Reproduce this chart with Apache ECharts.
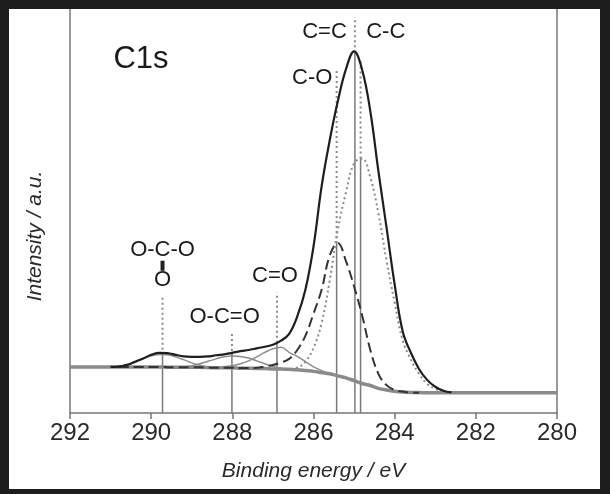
<!DOCTYPE html>
<html>
<head>
<meta charset="utf-8">
<script src="https://cdn.jsdelivr.net/npm/echarts@6/dist/echarts.min.js"></script>
<style>
html,body{margin:0;padding:0;background:#1d1d1d;}
#chart{position:absolute;left:9px;top:9px;width:591px;height:480px;background:#fff;}
</style>
</head>
<body>
<div id="chart"></div>
<script>
// binding energy grid (eV) (a.u.)
var energy = [292,291.5,291,290.8,290.6,290.4,290.2,290,289.8,289.6,289.4,289.2,289,288.8,288.6,288.4,288.2,288,287.8,287.6,287.4,287.2,287,286.8,286.6,286.4,286.2,286,285.8,285.6,285.4,285.2,285,284.8,284.6,284.4,284.2,284,283.8,283.6,283.4,283.2,283,282.8,282.6,282,281,280];

var background = [11.4,11.4,11.4,11.4,11.4,11.4,11.4,11.4,11.4,11.35,11.3,11.3,11.3,11.3,11.25,11.2,11.2,11.2,11.1,11.1,11.0,11.0,10.9,10.9,10.8,10.7,10.5,10.3,10.0,9.7,9.2,8.7,8.0,7.3,6.8,6.1,5.7,5.4,5.2,5.1,5.05,5.0,5.0,5.0,5.0,5.0,5.0,5.0];

var envelope = [null,null,11.4,11.5,11.9,12.7,13.5,14.4,14.9,14.8,14.4,14.0,13.9,13.9,14.0,14.3,14.5,14.9,15.3,15.6,16.0,16.4,16.9,17.9,19.6,23.9,30.5,41.2,56.1,67.5,77.2,85.1,89.5,84.9,74.7,59.8,45.9,31.8,20.1,14.9,10.9,8.2,6.5,5.5,5.1,null,null,null];

var cc = [null,null,null,null,null,null,null,null,null,null,null,null,null,null,null,null,null,null,null,null,null,null,null,10.9,10.9,11.2,12.7,16.1,22.3,32.8,45.4,54.6,61.8,63.0,58.3,49.4,37.7,27.3,17.9,13.2,9.7,7.2,6.0,5.2,5.0,null,null,null];

var co = [null,null,null,11.4,11.4,11.4,11.4,11.4,11.4,11.35,11.3,11.3,11.3,11.3,11.25,11.2,11.2,11.2,11.15,11.15,11.2,11.5,11.9,12.5,13.4,15.6,19.1,24.6,30.5,39.0,42.1,37.6,31.3,24.1,15.6,9.7,6.9,5.7,5.3,5.0,5.0,null,null,null,null,null,null,null];

var cdo = [null,null,null,null,null,null,null,null,null,null,null,null,null,null,null,11.2,11.5,11.7,12.2,12.9,13.9,15.0,15.9,16.3,15.0,14.0,12.7,11.4,10.5,9.8,9.2,null,null,null,null,null,null,null,null,null,null,null,null,null,null,null,null,null];

var ocdo = [null,null,null,null,null,null,null,null,null,null,11.3,11.4,11.7,12.2,12.8,13.4,13.9,14.1,14.0,13.6,12.9,12.2,11.5,11.0,10.8,null,null,null,null,null,null,null,null,null,null,null,null,null,null,null,null,null,null,null,null,null,null,null];

var oco = [null,null,11.4,11.5,11.9,12.5,13.4,14.1,14.5,14.4,13.9,13.2,12.4,11.8,11.4,11.2,null,null,null,null,null,null,null,null,null,null,null,null,null,null,null,null,null,null,null,null,null,null,null,null,null,null,null,null,null,null,null,null];

// peak markers: position, top of solid part, top of dotted part
var markerE = [289.72, 288.01, 286.90, 285.43, 284.98, 284.84];
var markerTop = [14.4, 14.1, 17.4, 42.1, 89.3, 63.0];
var markerDotTop = [29.3, 20.1, 29.8, 85.1, 98.0, 87.6];

// annotations
var labelText = ['C=C','C-C','C-O','O-C-O','O','O-C=O','C=O'];
var labelE = [285.73, 284.22, 286.03, 289.72, 289.72, 288.19, 286.95];
var labelV = [94.4, 94.4, 82.9, 40.3, 32.9, 23.9, 34.0];
var titleText = 'C1s', titleE = 290.25, titleV = 87.5;
var bondE = 289.72, bondV = [35.2, 37.7];

function pairs(vals){
    var out = [];
    for (var i = 0; i < energy.length; i++) {
        if (vals[i] != null) out.push([energy[i], vals[i]]);
    }
    return out;
}

var font = 'Liberation Sans, Arial, sans-serif';
var series = [];

for (var i = 0; i < markerE.length; i++) {
    series.push({
        type: 'line', showSymbol: false, silent: true, z: 1,
        data: [[markerE[i], 0], [markerE[i], markerTop[i]]],
        lineStyle: {color: '#7a7a7a', width: 1.5}
    });
    series.push({
        type: 'line', showSymbol: false, silent: true, z: 1,
        data: [[markerE[i], markerTop[i]], [markerE[i], markerDotTop[i]]],
        lineStyle: {color: '#8a8a8a', width: 2, type: [2, 3]}
    });
}

series.push({
    type: 'line', showSymbol: false, smooth: 0.3, z: 2,
    data: pairs(background),
    lineStyle: {color: '#8a8a8a', width: 3.5}
});
series.push({
    type: 'line', showSymbol: false, smooth: 0.4, z: 3,
    data: pairs(oco),
    lineStyle: {color: '#8c8c8c', width: 1.5}
});
series.push({
    type: 'line', showSymbol: false, smooth: 0.4, z: 3,
    data: pairs(ocdo),
    lineStyle: {color: '#8c8c8c', width: 1.5}
});
series.push({
    type: 'line', showSymbol: false, smooth: 0.4, z: 3,
    data: pairs(cdo),
    lineStyle: {color: '#8c8c8c', width: 1.5}
});
series.push({
    type: 'line', showSymbol: false, smooth: 0.4, z: 3,
    data: pairs(co),
    lineStyle: {color: '#333', width: 2, type: [10, 5]}
});
series.push({
    type: 'line', showSymbol: false, smooth: 0.4, z: 3,
    data: pairs(cc),
    lineStyle: {color: '#8a8a8a', width: 2, type: [2, 3]}
});
series.push({
    type: 'line', showSymbol: false, smooth: 0.4, z: 4,
    data: pairs(envelope),
    lineStyle: {color: '#1e1e1e', width: 2.2}
});
// bond between O-C-O and the O below
series.push({
    type: 'line', showSymbol: false, silent: true, z: 5,
    data: [[bondE, bondV[0]], [bondE, bondV[1]]],
    lineStyle: {color: '#222', width: 4}
});
series.push({
    type: 'scatter', symbolSize: 1, silent: true, z: 6,
    itemStyle: {color: '#fff', opacity: 0},
    data: labelE.map(function(e, i){ return [e, labelV[i]]; }),
    label: {
        show: true, position: 'inside', color: '#1a1a1a', fontSize: 22, fontFamily: font,
        opacity: 1, textBorderWidth: 0,
        formatter: function(p){ return labelText[p.dataIndex]; }
    }
});
series.push({
    type: 'scatter', symbolSize: 1, silent: true, z: 6,
    itemStyle: {color: '#fff', opacity: 0},
    data: [[titleE, titleV]],
    label: {
        show: true, position: 'inside', color: '#1a1a1a', fontSize: 31, fontFamily: font,
        opacity: 1, textBorderWidth: 0,
        formatter: titleText
    }
});

var myChart = echarts.init(document.getElementById('chart'));
var option = {
    animation: false,
    grid: {left: 61, right: 43, top: 0, bottom: 76},
    xAxis: {
        type: 'value', min: 280, max: 292, interval: 2, inverse: true,
        name: 'Binding energy / eV', nameLocation: 'middle', nameGap: 48,
        nameTextStyle: {fontSize: 21, fontStyle: 'italic', color: '#2a2a2a', fontFamily: font},
        axisLine: {lineStyle: {color: '#777', width: 1.5}},
        axisTick: {length: 6, lineStyle: {color: '#777', width: 1.5}},
        axisLabel: {fontSize: 24, color: '#2a2a2a', margin: 8, fontFamily: font},
        splitLine: {show: false}
    },
    yAxis: [{
        type: 'value', min: 0, max: 100, position: 'left',
        name: 'Intensity / a.u.', nameLocation: 'middle', nameGap: 24,
        nameTextStyle: {fontSize: 21, fontStyle: 'italic', color: '#2a2a2a', fontFamily: font, padding: [0, 50, 0, 0]},
        axisLine: {show: true, lineStyle: {color: '#777', width: 1.5}},
        axisTick: {show: false}, axisLabel: {show: false}, splitLine: {show: false}
    }, {
        type: 'value', min: 0, max: 100, position: 'right',
        axisLine: {show: true, lineStyle: {color: '#777', width: 1.5}},
        axisTick: {show: false}, axisLabel: {show: false}, splitLine: {show: false}
    }],
    series: series
};
myChart.setOption(option);
</script>
</body>
</html>
